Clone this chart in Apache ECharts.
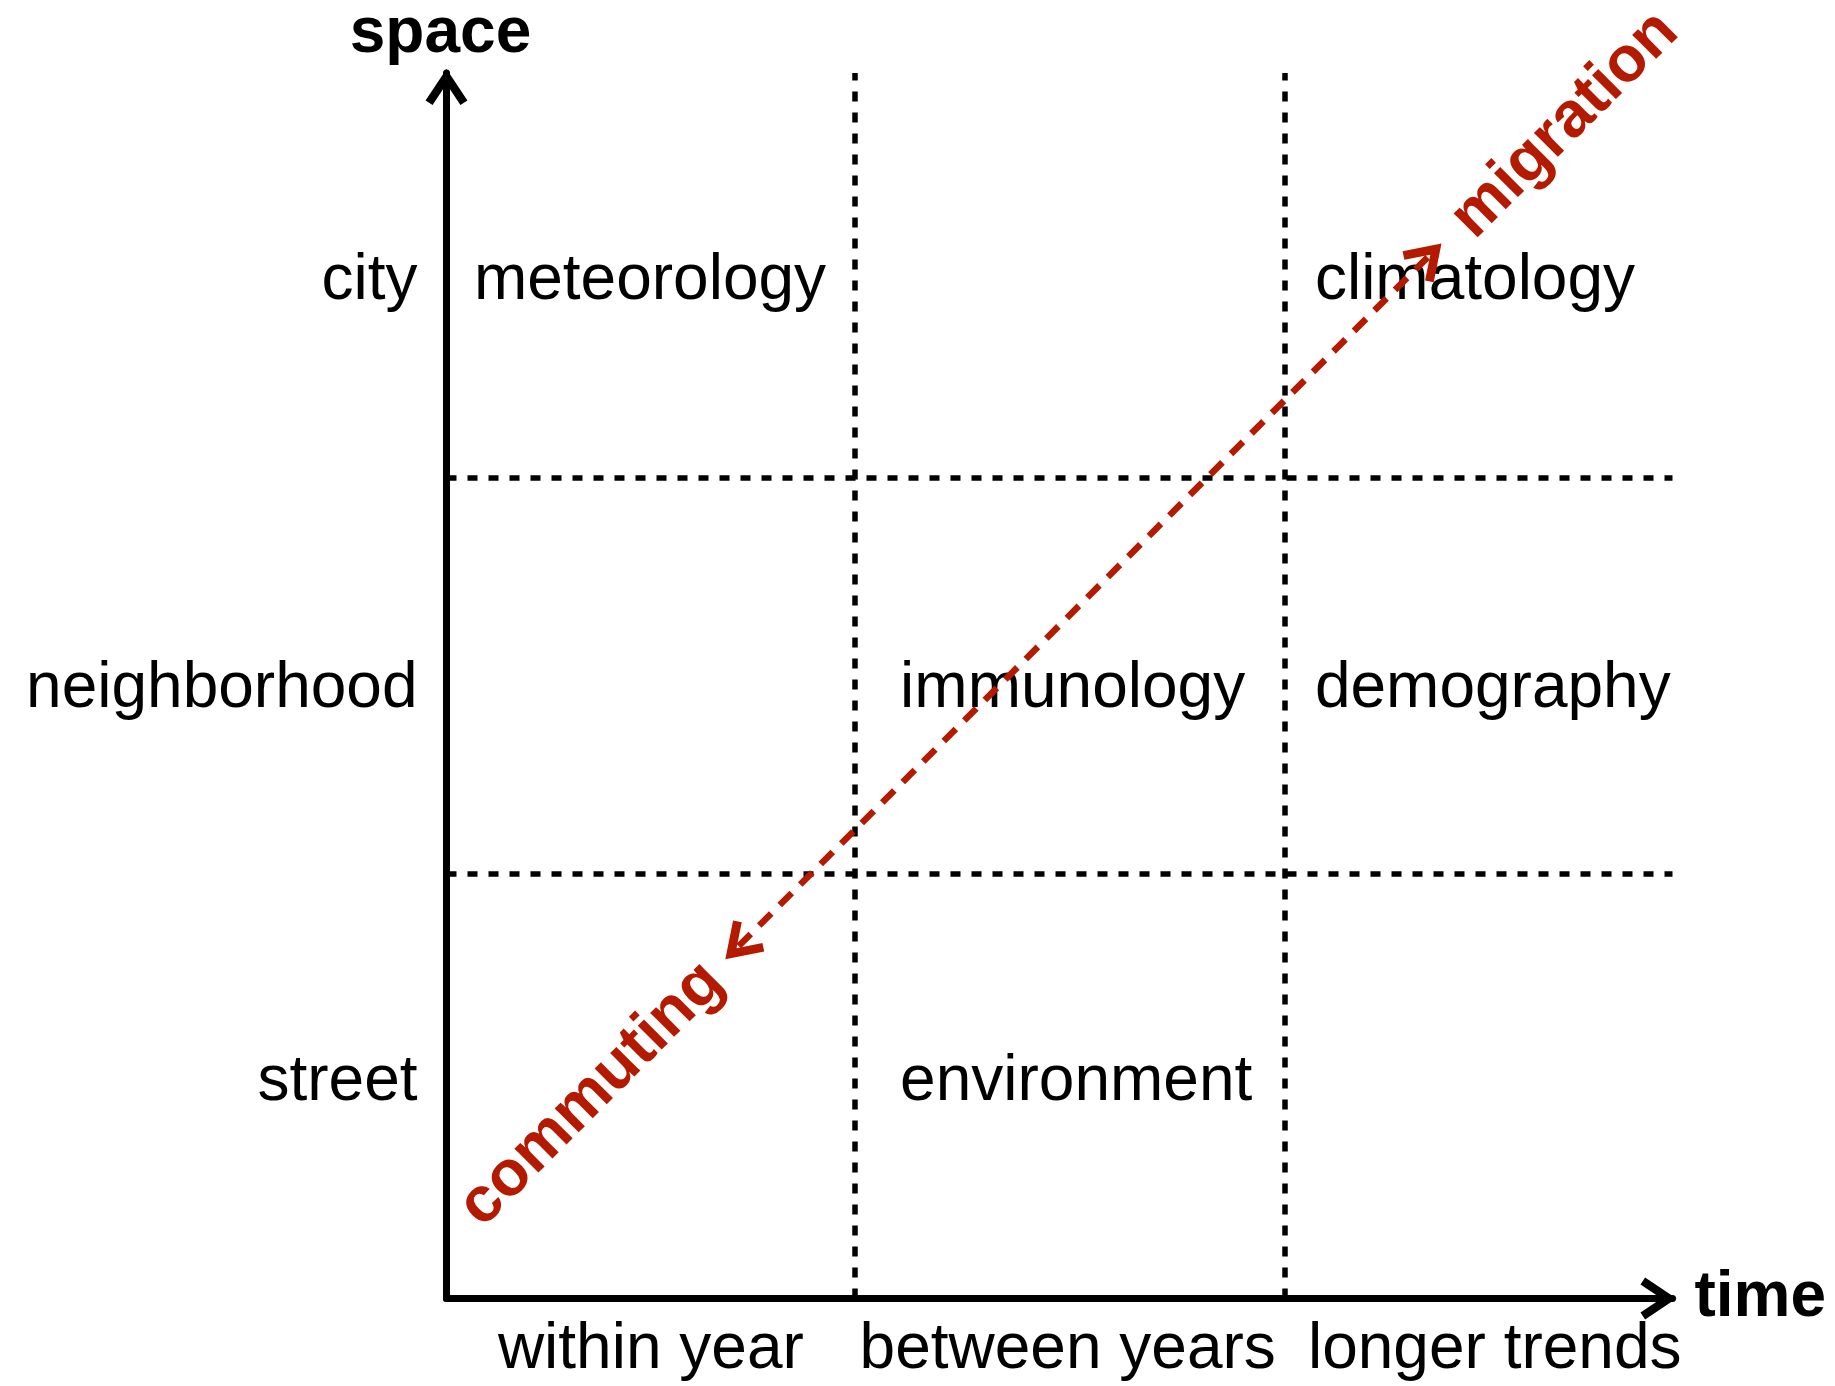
<!DOCTYPE html>
<html>
<head>
<meta charset="utf-8">
<title>space and time scales</title>
<script src="https://cdn.jsdelivr.net/npm/echarts@6.0.0/dist/echarts.min.js"></script>
<style>
  html, body { margin: 0; padding: 0; background: #fff; }
  #chart { width: 1835px; height: 1386px; }
</style>
</head>
<body>
<div id="chart"></div>
<script>
// axis labels (time on x, space on y)
const timeLabels = ['within year', 'between years', 'longer trends']
const timeTicks = [0.5, 1.52, 2.565]
const spaceLabels = ['street', 'neighborhood', 'city']
const spaceTicks = [0.53, 1.49, 2.49]

// dotted cell borders
const timeBreaks = [1, 2.05]
const spaceBreaks = [1.04, 2.01]

// fields written in the cells (x = left edge of the word)
const fieldNames = ['meteorology', 'climatology', 'immunology', 'demography', 'environment']
const fieldX = [0.067, 2.125, 1.11, 2.125, 1.11]
const fieldY = [2.49, 2.49, 1.49, 1.49, 0.53]

// mobility arrow, commuting end -> migration end
const arrowFrom = [0.715, 0.863]
const arrowTo = [2.402, 2.55]
const moveNames = ['commuting', 'migration']
const moveX = [0.356, 2.737]
const moveY = [0.5, 2.873]

const RED = '#b31a00'
const FONT = '"Liberation Sans", Arial, sans-serif'
// open arrow head, pointing up
const chevron = 'path://M20,0 L40,30 L33.3,34.4 L20,14.4 L6.7,34.4 L0,30 Z'

const chart = echarts.init(document.getElementById('chart'))

const axisLine = {
  show: true,
  onZero: false,
  symbol: ['none', chevron],
  symbolSize: [42, 36],
  symbolOffset: [0, -14],
  lineStyle: { color: '#000', width: 7 }
}
const labelStyle = { fontFamily: FONT, fontSize: 64, color: '#000' }

const option = {
  animation: false,
  backgroundColor: '#fff',
  textStyle: { fontFamily: FONT },
  grid: { left: 446.5, top: 73, width: 1226, height: 1225.5, containLabel: false, outerBoundsMode: 'none' },
  xAxis: {
    type: 'value', min: 0, max: 3,
    name: 'time', nameLocation: 'end', nameGap: 22, nameMoveOverlap: false,
    nameTextStyle: { ...labelStyle, fontWeight: 'bold', align: 'left', verticalAlign: 'middle', padding: [0, 0, 8, 0] },
    axisLine: axisLine,
    axisTick: { show: false },
    splitLine: { show: false },
    axisLabel: {
      ...labelStyle,
      customValues: timeTicks,
      formatter: v => timeLabels[timeTicks.indexOf(v)],
      margin: 52,
      verticalAlign: 'middle'
    }
  },
  yAxis: {
    type: 'value', min: 0, max: 3,
    name: 'space', nameLocation: 'end', nameGap: 39, nameMoveOverlap: false,
    nameTextStyle: { ...labelStyle, fontWeight: 'bold', align: 'center', verticalAlign: 'middle', padding: [0, 12, 0, 0] },
    axisLine: axisLine,
    axisTick: { show: false },
    splitLine: { show: false },
    axisLabel: {
      ...labelStyle,
      customValues: spaceTicks,
      formatter: v => spaceLabels[spaceTicks.indexOf(v)],
      margin: 29
    }
  },
  series: [
    {
      name: 'fields',
      type: 'scatter',
      silent: true,
      clip: false,
      symbolSize: 0,
      itemStyle: { opacity: 1 },
      data: fieldNames.map((n, i) => [fieldX[i], fieldY[i], n]),
      label: {
        show: true,
        ...labelStyle,
        opacity: 1,
        position: 'right',
        distance: 0,
        align: 'left',
        verticalAlign: 'middle',
        formatter: p => p.value[2]
      },
      markLine: {
        silent: true,
        symbol: 'none',
        label: { show: false },
        lineStyle: { color: '#000', width: 5.5, type: [10, 11], opacity: 1 },
        data: [
          ...timeBreaks.map(v => ({ xAxis: v })),
          ...spaceBreaks.map(v => ({ yAxis: v }))
        ]
      }
    },
    {
      name: 'mobility',
      type: 'scatter',
      silent: true,
      clip: false,
      symbolSize: 0,
      z: 3,
      itemStyle: { opacity: 1, color: RED },
      data: moveNames.map((n, i) => [moveX[i], moveY[i], n]),
      label: {
        show: true,
        fontFamily: FONT,
        fontSize: 64,
        fontWeight: 'bold',
        color: RED,
        opacity: 1,
        position: 'inside',
        rotate: 45,
        align: 'center',
        verticalAlign: 'middle',
        formatter: p => p.value[2]
      },
      markLine: {
        silent: true,
        z: 6,
        symbol: [chevron, chevron],
        symbolSize: 44,
        symbolKeepAspect: true,
        label: { show: false },
        lineStyle: { color: RED, width: 6.5, type: [17, 12], opacity: 1 },
        data: [[
          { coord: arrowFrom, symbolKeepAspect: true },
          { coord: arrowTo, symbolKeepAspect: true }
        ]]
      }
    }
  ]
}

chart.setOption(option)
</script>
</body>
</html>
